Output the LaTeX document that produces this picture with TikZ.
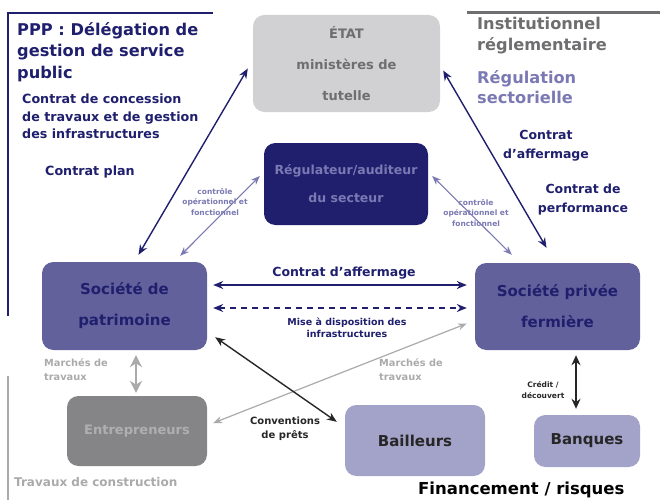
\documentclass[tikz,border=0pt]{standalone}
\usepackage{fontspec}
\setmainfont{DejaVu Sans}
\usetikzlibrary{arrows.meta}
\definecolor{navyblue}{HTML}{1F1F6E}
\definecolor{boxpurple}{HTML}{63619B}
\definecolor{lavender}{HTML}{7B79B3}
\definecolor{lightpurple}{HTML}{A3A2C8}
\definecolor{stategray}{HTML}{D1D1D3}
\definecolor{stategraytext}{HTML}{6E6E70}
\definecolor{workgray}{HTML}{858587}
\definecolor{workgraytext}{HTML}{AFAFB1}

\begin{document}
\begin{tikzpicture}
    [x=1pt, y=-1pt,
    post/.style={{Stealth[length=10pt,width=8pt]}-{Stealth[length=10pt,width=8pt]},
                 navyblue,
                 line width=1.4pt},
    soft/.style={{Stealth[length=9pt,width=7pt]}-{Stealth[length=9pt,width=7pt]},
                 lavender,
                 line width=1.1pt},
    ob/.style={rectangle,
               rounded corners=4mm,
               inner sep=1mm,
               align=center,
               font=\bfseries\fontsize{13}{31}\selectfont},
    lbl/.style={align=center,
                inner sep=0pt,
                font=\bfseries\fontsize{12.5}{19}\selectfont}]
    \useasboundingbox (0,0) rectangle (660,500);
    % frames
    \draw[navyblue, line width=2.5pt] (8,316) -- (8,13) -- (213,13);
    \draw[workgray!70, line width=2.5pt] (8,376) -- (8,500);
    \draw[stategraytext, line width=3pt] (467,13) -- (660,13);
    % boxes
    \node[ob,
          fill=stategray,
          text=stategraytext,
          minimum width=187pt,
          minimum height=97pt] (Etat) at (346.5,63.5) {ÉTAT\\ministères de\\tutelle};
    \node[ob,
          fill=navyblue,
          text=lavender,
          minimum width=164pt,
          minimum height=82pt,
          font=\bfseries\fontsize{12.5}{28}\selectfont] (Regulateur) at (346,184) {Régulateur/auditeur\\du secteur};
    \node[ob,
          fill=boxpurple,
          text=navyblue,
          minimum width=165pt,
          minimum height=88pt,
          font=\bfseries\fontsize{15}{31}\selectfont] (Patrimoine) at (124.5,306) {Société de\\patrimoine};
    \node[ob,
          fill=boxpurple,
          text=navyblue,
          minimum width=165pt,
          minimum height=87pt,
          font=\bfseries\fontsize{15}{31}\selectfont] (Fermiere) at (557.5,306.5) {Société privée\\fermière};
    \node[ob,
          fill=workgray,
          text=workgraytext,
          minimum width=140pt,
          minimum height=70pt] (Entrepreneurs) at (137,431) {Entrepreneurs};
    \node[ob,
          fill=lightpurple,
          text=black!85,
          minimum width=140pt,
          minimum height=71pt,
          font=\bfseries\fontsize{15}{18}\selectfont] (Bailleurs) at (415,440.5) {Bailleurs};
    \node[ob,
          fill=lightpurple,
          text=black!85,
          minimum width=106pt,
          minimum height=52pt,
          font=\bfseries\fontsize{15}{18}\selectfont] (Banques) at (587,441) {Banques};
    % headings
    \node[anchor=north west, align=left, inner sep=0pt, text=navyblue,
          font=\bfseries\fontsize{16.2}{21.5}\selectfont] (ppp) at (17,22) {PPP : Délégation de\\gestion de service\\public};
    \node[anchor=north west, align=left, inner sep=0pt, text=navyblue,
          font=\bfseries\fontsize{12.7}{17.5}\selectfont] (concession) at (22,94) {Contrat de concession\\de travaux et de gestion\\des infrastructures};
    \node[anchor=north west, inner sep=0pt, text=navyblue,
          font=\bfseries\fontsize{12.7}{17.5}\selectfont] (plan) at (45,166) {Contrat plan};
    \node[anchor=north west, align=left, inner sep=0pt, text=stategraytext,
          font=\bfseries\fontsize{16.2}{20.5}\selectfont] (institution) at (477,17) {Institutionnel\\réglementaire};
    \node[anchor=north west, align=left, inner sep=0pt, text=lavender,
          font=\bfseries\fontsize{16.2}{20.5}\selectfont] (regulation) at (477,70) {Régulation\\sectorielle};
    \node[anchor=west, inner sep=0pt, text=workgray!70,
          font=\bfseries\fontsize{12}{14}\selectfont] (construction) at (14,482) {Travaux de construction};
    \node[anchor=west, inner sep=0pt, text=black,
          font=\bfseries\fontsize{16.5}{18}\selectfont] (financement) at (418,490) {Financement / risques};
    % connectors
    \draw[post] ([shift={(-5,5)}]Etat.west) -- ([shift={(14,-7)}]Patrimoine.north);
    \draw[post] ([shift={(3,7)}]Etat.east) -- ([shift={(-11,-15)}]Fermiere.north);
    \draw[soft] ([shift={(-4,-8)}]Regulateur.west) -- ([shift={(-27,-6)}]Patrimoine.north east);
    \draw[soft] ([shift={(4,-8)}]Regulateur.east) -- ([shift={(37,-8)}]Fermiere.north west);
    \draw[post] ([shift={(6,-21)}]Patrimoine.east) -- ([shift={(-8,-21.5)}]Fermiere.west);
    \draw[post, dashed, dash pattern=on 6pt off 5pt] ([shift={(6,2)}]Patrimoine.east) -- ([shift={(-8,1.5)}]Fermiere.west);
    \draw[{Stealth[length=12pt,width=12pt]}-{Stealth[length=12pt,width=12pt]}, workgray!70, line width=2.5pt]
        ([shift={(11.5,5)}]Patrimoine.south) -- ([shift={(-1,-3)}]Entrepreneurs.north);
    \draw[{Stealth[length=9pt,width=7pt]}-{Stealth[length=9pt,width=7pt]}, workgray!70, line width=1.2pt]
        ([shift={(6,-8)}]Entrepreneurs.east) -- ([shift={(-8,17)}]Fermiere.west);
    \draw[post, black!85] ([shift={(8,-13)}]Patrimoine.south east) -- ([shift={(-8,17)}]Bailleurs.north west);
    \draw[{Stealth[length=10pt,width=9pt]}-{Stealth[length=10pt,width=9pt]}, black!85, line width=2pt]
        ([shift={(18.5,5)}]Fermiere.south) -- ([shift={(-11,-6)}]Banques.north);
    % connector labels
    \node[lbl, text=navyblue] (affermageA) at (546,146) {Contrat\\d’affermage};
    \node[lbl, text=navyblue] (performance) at (583,200) {Contrat de\\performance};
    \node[lbl, text=lavender, font=\bfseries\fontsize{7.5}{10.5}\selectfont] (controleA) at (215,202) {contrôle\\opérationnel et\\fonctionnel};
    \node[lbl, text=lavender, font=\bfseries\fontsize{7.5}{10.5}\selectfont] (controleB) at (476,213) {contrôle\\opérationnel et\\fonctionnel};
    \node[lbl, text=navyblue] (affermageB) at (344,273) {Contrat d’affermage};
    \node[lbl, text=navyblue, font=\bfseries\fontsize{9.5}{12.5}\selectfont] (mise) at (347,328) {Mise à disposition des\\infrastructures};
    \node[lbl, align=left, anchor=north west, text=workgray!70, font=\bfseries\fontsize{9.8}{14}\selectfont] (marchesA) at (44,358) {Marchés de\\travaux};
    \node[lbl, align=left, anchor=north west, text=workgray!70, font=\bfseries\fontsize{9.8}{14}\selectfont] (marchesB) at (379,358) {Marchés de\\travaux};
    \node[lbl, text=black!85, font=\bfseries\fontsize{10}{14}\selectfont] (conventions) at (285,429) {Conventions\\de prêts};
    \node[lbl, text=black!85, font=\bfseries\fontsize{7.5}{11}\selectfont] (credit) at (543,390) {Crédit /\\découvert};
\end{tikzpicture}
\end{document}
